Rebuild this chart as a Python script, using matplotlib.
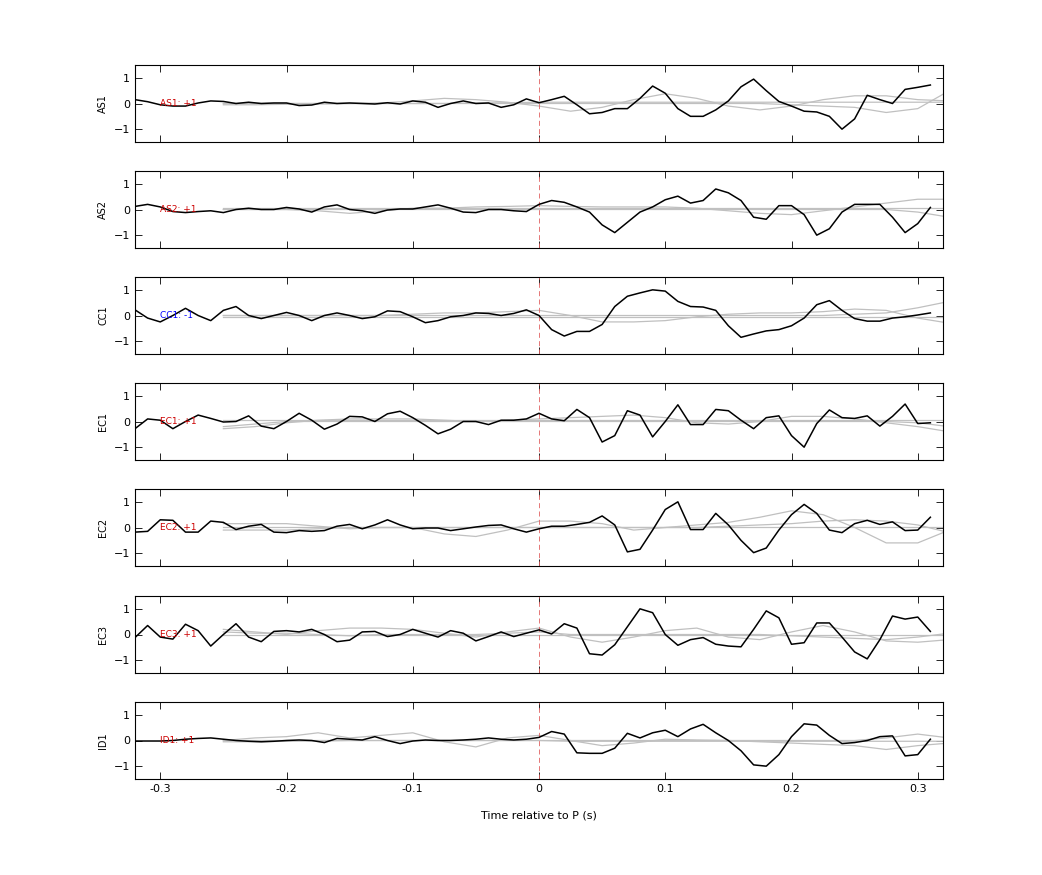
import numpy as np
import matplotlib
matplotlib.use("Agg")
import matplotlib.pyplot as plt

t = np.round(np.arange(-0.32, 0.315, 0.01), 2)
names = ["AS1", "AS2", "CC1", "EC1", "EC2", "EC3", "ID1"]
polarity = ["+1", "+1", "-1", "+1", "+1", "+1", "+1"]

AS1 = [0.15,0.07,-0.05,-0.1,-0.1,0.02,0.1,0.08,0.0,0.05,0.0,0.02,0.02,-0.08,-0.06,0.05,0.0,0.02,0.0,-0.02,0.03,-0.02,0.1,0.05,-0.15,0.0,0.1,0.0,0.02,-0.15,-0.05,0.18,
       0.03,0.15,0.28,-0.05,-0.4,-0.35,-0.2,-0.2,0.2,0.68,0.4,-0.2,-0.5,-0.5,-0.25,0.1,0.65,0.95,0.5,0.08,-0.1,-0.3,-0.33,-0.5,-1.0,-0.6,0.32,0.15,0.0,0.55,0.63,0.72]
AS2 = [0.12,0.2,0.1,-0.08,-0.12,-0.08,-0.05,-0.12,0.0,0.05,0.0,0.0,0.08,0.02,-0.1,0.1,0.18,0.0,-0.05,-0.15,-0.02,0.02,0.02,0.1,0.18,0.05,-0.1,-0.12,0.0,0.0,-0.05,-0.08,
       0.2,0.35,0.28,0.1,-0.1,-0.6,-0.9,-0.5,-0.1,0.1,0.38,0.52,0.25,0.35,0.8,0.65,0.35,-0.3,-0.38,0.15,0.15,-0.2,-1.0,-0.75,-0.1,0.2,0.2,0.2,-0.3,-0.9,-0.55,0.08]
CC1 = [0.22,-0.1,-0.25,0.0,0.28,0.0,-0.2,0.2,0.35,0.0,-0.12,0.0,0.12,0.0,-0.2,0.0,0.1,0.0,-0.12,-0.05,0.18,0.15,-0.05,-0.28,-0.2,-0.05,0.0,0.1,0.08,0.0,0.08,0.22,
       0.0,-0.55,-0.8,-0.62,-0.62,-0.35,0.35,0.75,0.88,1.0,0.95,0.55,0.35,0.33,0.2,-0.4,-0.85,-0.72,-0.6,-0.55,-0.4,-0.1,0.42,0.58,0.2,-0.12,-0.22,-0.22,-0.1,-0.05,0.02,0.1]
EC1 = [-0.28,0.1,0.05,-0.28,0.0,0.25,0.12,-0.02,0.0,0.22,-0.18,-0.28,0.0,0.32,0.05,-0.3,-0.1,0.2,0.18,0.0,0.3,0.4,0.15,-0.15,-0.48,-0.3,0.0,0.0,-0.12,0.05,0.05,0.1,
       0.32,0.1,0.03,0.47,0.15,-0.8,-0.55,0.42,0.25,-0.6,0.0,0.65,-0.12,-0.12,0.47,0.42,0.05,-0.28,0.15,0.22,-0.55,-1.0,-0.08,0.45,0.15,0.12,0.22,-0.18,0.2,0.68,-0.08,-0.05]
EC2 = [-0.18,-0.15,0.3,0.28,-0.18,-0.18,0.25,0.2,-0.08,0.05,0.12,-0.18,-0.2,-0.12,-0.15,-0.12,0.05,0.12,-0.05,0.1,0.3,0.1,-0.05,-0.02,-0.02,-0.12,-0.05,0.02,0.08,0.1,-0.05,-0.18,
       -0.05,0.05,0.05,0.12,0.2,0.45,0.1,-0.95,-0.85,-0.1,0.7,1.0,-0.08,-0.08,0.55,0.1,-0.5,-0.98,-0.8,-0.1,0.5,0.9,0.55,-0.1,-0.2,0.15,0.28,0.12,0.22,-0.12,-0.1,0.4]
EC3 = [-0.12,0.35,-0.1,-0.18,0.4,0.15,-0.45,0.0,0.42,-0.1,-0.28,0.12,0.15,0.1,0.2,0.0,-0.28,-0.22,0.1,0.12,-0.08,0.0,0.2,0.05,-0.1,0.15,0.05,-0.25,-0.08,0.1,-0.08,0.05,
       0.18,0.02,0.42,0.25,-0.75,-0.8,-0.4,0.3,1.0,0.85,0.0,-0.42,-0.2,-0.12,-0.38,-0.45,-0.48,0.2,0.92,0.65,-0.38,-0.32,0.45,0.45,-0.1,-0.68,-0.95,-0.2,0.72,0.6,0.68,0.12]
ID1 = [-0.02,-0.02,-0.02,0.0,0.05,0.08,0.1,0.05,0.0,-0.03,-0.05,-0.03,0.0,0.02,0.0,-0.08,0.08,0.05,0.02,0.15,0.0,-0.12,-0.02,0.02,0.0,0.0,0.02,0.05,0.1,0.05,0.02,0.05,
       0.12,0.35,0.25,-0.48,-0.5,-0.5,-0.3,0.28,0.1,0.3,0.4,0.15,0.45,0.63,0.3,0.0,-0.4,-0.95,-1.0,-0.55,0.15,0.65,0.6,0.2,-0.12,-0.08,0.0,0.15,0.18,-0.6,-0.55,0.05]
signals = [AS1, AS2, CC1, EC1, EC2, EC3, ID1]

# grey reference traces (sparse knots)
gx = [-0.25,-0.225,-0.2,-0.175,-0.15,-0.125,-0.1,-0.075,-0.05,-0.025,0.0,0.025,0.05,0.075,0.1,0.125,0.15,0.175,0.2,0.225,0.25,0.275,0.3,0.325]
grey_AS1 = [
 [0,0,0,0,0,0.02,0.1,0.2,0.15,0.05,-0.1,-0.3,-0.15,0.15,0.38,0.2,-0.1,-0.25,-0.1,0.15,0.3,0.3,0.15,0.1],
 [0,0,0,0,0,0,0,0,0,0,0,0,0,0,0,0,0,0,-0.05,-0.1,-0.15,-0.35,-0.2,0.5],
 [-0.05,-0.05,-0.03,-0.02,0,0,0,0,0.02,0.03,0.05,0.05,0.05,0.05,0.05,0.05,0.05,0.05,0.05,0.05,0.05,0.05,0.05,0.05],
]
grey_AS2 = [
 [0,0,0,-0.05,-0.15,-0.05,0.05,0.05,0.1,0.12,0.15,0.12,0.1,0.1,0.1,0.05,-0.05,-0.15,-0.2,-0.05,0.1,0.25,0.4,0.4],
 [0,0,0,0,0,0,0,0,0,0,0,0,0,0,0,0,0,0,0,0,0,0,-0.1,-0.3],
 [0.05,0.05,0.05,0.05,0.05,0.05,0.05,0.05,0.05,0.05,0.05,0.05,0.05,0.05,0.05,0.05,0.05,0.05,0.05,0.05,0.05,0.05,0.05,0.05],
]
grey_CC1 = [
 [0,0,0,0,0,0,0.05,0.1,0.1,0.15,0.2,0.0,-0.25,-0.25,-0.2,-0.05,0.05,0.1,0.1,0.15,0.25,0.2,-0.1,-0.3],
 [0,0,0,0,0,0,0,0,0,0,0,0,0,0,0,0,0,0,0,0,0.05,0.1,0.3,0.55],
 [-0.05,-0.05,-0.05,-0.05,-0.05,-0.05,-0.05,-0.05,-0.05,-0.05,-0.05,-0.05,-0.05,-0.05,-0.05,-0.05,-0.05,-0.05,-0.05,-0.05,-0.05,-0.05,-0.05,-0.05],
]
grey_EC1 = [
 [-0.28,-0.2,-0.05,0.05,0.1,0.1,0.1,0.05,0.0,0.05,0.1,0.15,0.2,0.25,0.15,-0.05,-0.1,0.0,0.2,0.2,0.1,-0.05,-0.2,-0.4],
 [-0.2,-0.1,0,0,0,0,0,0,0,0,0,0,0,0,0,0,0,0,0,0,0,0,-0.05,-0.2],
 [0.05,0.05,0.05,0.05,0.05,0.05,0.05,0.05,0.05,0.05,0.05,0.05,0.05,0.05,0.05,0.05,0.05,0.05,0.05,0.05,0.05,0.05,0.05,0.05],
]
grey_EC2 = [
 [0.15,0.15,0.15,0.05,-0.05,0.0,0.0,-0.25,-0.35,-0.1,0.25,0.25,0.15,-0.1,0.0,0.1,0.2,0.4,0.65,0.5,0.0,-0.6,-0.6,-0.1],
 [-0.1,-0.1,-0.1,-0.05,0,0,0,0,0,0,0,0,0,0,0,0,0.05,0.1,0.15,0.25,0.3,0.25,0.1,-0.2],
 [0.02,0.02,0.02,0.02,0.02,0.02,0.02,0.02,0.02,0.02,0.02,0.02,0.02,0.02,0.02,0.02,0.02,0.02,0.02,0.02,0.02,0.02,0.02,0.02],
]
grey_EC3 = [
 [0.2,0.1,0.0,0.15,0.25,0.25,0.2,0.05,-0.1,0.1,0.25,-0.1,-0.3,-0.1,0.15,0.25,-0.1,-0.2,0.1,0.35,0.1,-0.25,-0.3,-0.2],
 [0.1,0.05,0.05,0,-0.05,0,0,0,0,0.05,0.1,0,0,0,0,0,0,0,-0.05,-0.1,-0.15,-0.2,-0.1,0.05],
 [0.0,0.0,0.0,0.0,0.0,0.0,0.0,0.0,0.0,0.0,0.0,0.0,0.0,0.0,0.0,0.0,0.0,0.0,0.0,0.0,0.0,0.0,0.0,0.0],
]
grey_ID1 = [
 [0.0,0.1,0.15,0.3,0.1,0.2,0.3,-0.05,-0.25,0.1,0.2,0.0,-0.2,-0.1,0.05,0.02,0.0,-0.05,-0.1,-0.15,-0.2,-0.35,-0.2,-0.1],
 [0,0,0,0,0,0,0,0,0,0,0,0,0,0,0,0,0,0,0,0,0,0.1,0.25,0.1],
 [-0.05,-0.05,-0.03,-0.02,0,0,0,0,0,0,0,-0.03,-0.03,-0.03,-0.03,-0.03,-0.03,-0.03,-0.03,-0.03,-0.03,-0.03,-0.03,-0.03],
]
greys = [grey_AS1, grey_AS2, grey_CC1, grey_EC1, grey_EC2, grey_EC3, grey_ID1]

fig = plt.figure(figsize=(10.42, 8.75), dpi=100)
W, H = 1042, 875
tops = [65, 171, 277, 383, 489, 596, 702]
ph = 77
for i, (nm, pol, sig, gr) in enumerate(zip(names, polarity, signals, greys)):
    ax = fig.add_axes([135 / W, 1 - (tops[i] + ph) / H, 808 / W, ph / H])
    for g in gr:
        ax.plot(gx, g, color="#c0c0c0", lw=0.9)
    ax.axvline(0, color="#e06060", lw=0.6, ls=(0, (6, 4)))
    ax.plot(t, sig, color="black", lw=1.1)
    ax.text(-0.30, 0, f"{nm}: {pol}", color="blue" if pol == "-1" else "#cc0000",
            fontsize=6.5, va="center", ha="left")
    ax.set_xlim(-0.32, 0.32)
    ax.set_ylim(-1.5, 1.5)
    ax.set_yticks([-1, 0, 1])
    ax.set_xticks([-0.3, -0.2, -0.1, 0, 0.1, 0.2, 0.3])
    ax.set_xticklabels(["-0.3", "-0.2", "-0.1", "0", "0.1", "0.2", "0.3"])
    ax.tick_params(direction="in", top=True, right=True, labelsize=8, length=5, width=0.6)
    ax.set_ylabel(nm, fontsize=7)
    for s in ax.spines.values():
        s.set_linewidth(0.8)
    if i < 6:
        ax.tick_params(labelbottom=False)
    else:
        ax.set_xlabel("Time relative to P (s)", fontsize=8, labelpad=12)

fig.savefig("out.png", dpi=100)
